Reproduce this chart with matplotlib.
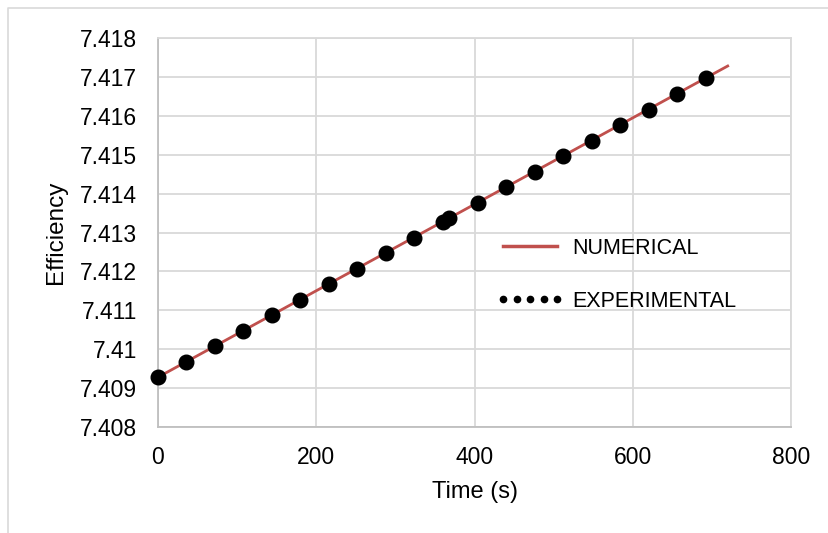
import numpy as np
import matplotlib.pyplot as plt
from matplotlib.lines import Line2D

plt.rcParams["font.family"] = ["Liberation Sans", "DejaVu Sans"]

# experimental points
exp_time = [0, 36, 72, 108, 144, 180, 216, 252, 288, 324, 360, 368,
            404, 440, 476, 512, 548, 584, 620, 656, 692]
exp_eff = [7.40928, 7.40967, 7.41007, 7.41047, 7.41087, 7.41127, 7.41167,
           7.41207, 7.41247, 7.41287, 7.41327, 7.41336, 7.41376, 7.41416,
           7.41456, 7.41496, 7.41536, 7.41576, 7.41616, 7.41656, 7.41696]

# numerical solution
num_time = [0, 180, 360, 540, 720]
num_eff = [7.40928, 7.41128, 7.41328, 7.41528, 7.41728]

red = "#c0504d"
grid_col = "#d9d9d9"

fig = plt.figure(figsize=(8.29, 5.33), dpi=100)
ax = fig.add_axes([158 / 829, 1 - 427 / 533, 633 / 829, 389 / 533])

ax.plot(num_time, num_eff, color=red, lw=2.0, zorder=3)
ax.plot(exp_time, exp_eff, "o", color="black", ms=10.5, zorder=4, clip_on=False)

ax.set_xlim(0, 800)
ax.set_ylim(7.408, 7.418)
ax.set_xticks(np.arange(0, 801, 200))
ax.set_yticks(np.arange(7.408, 7.4181, 0.001))
ax.set_yticklabels(["7.408", "7.409", "7.41", "7.411", "7.412", "7.413",
                    "7.414", "7.415", "7.416", "7.417", "7.418"])
ax.grid(True, color=grid_col, lw=1.3)
ax.set_axisbelow(True)
for s in ax.spines.values():
    s.set_color(grid_col)
    s.set_linewidth(1.3)
ax.spines["left"].set_color("#bfbfbf")
ax.spines["bottom"].set_color("#bfbfbf")
ax.tick_params(length=0, labelsize=16.5, colors="black")
ax.tick_params(axis="y", pad=15)
ax.tick_params(axis="x", pad=14)

ax.set_xlabel("Time (s)", fontsize=17, labelpad=8)
ax.set_ylabel("Efficiency", fontsize=17.5)
ax.yaxis.set_label_coords(-0.143, 0.5)

handles = [Line2D([], [], color=red, lw=2.5),
           Line2D([], [], ls="none", marker="o", color="black", ms=4.5)]
ax.legend(handles, ["NUMERICAL", "EXPERIMENTAL"], loc="upper left",
          bbox_to_anchor=(0.5355, 0.487), frameon=False, fontsize=15.5,
          numpoints=5, handlelength=3.1, handletextpad=0.4,
          labelspacing=1.5, borderpad=0, borderaxespad=0)

# chart area border
fig.add_artist(Line2D([8 / 829, 8 / 829, 1.0], [0.0, 1 - 8 / 533, 1 - 8 / 533],
                      transform=fig.transFigure, color=grid_col, lw=1.2))

fig.savefig("out.png", dpi=100)
